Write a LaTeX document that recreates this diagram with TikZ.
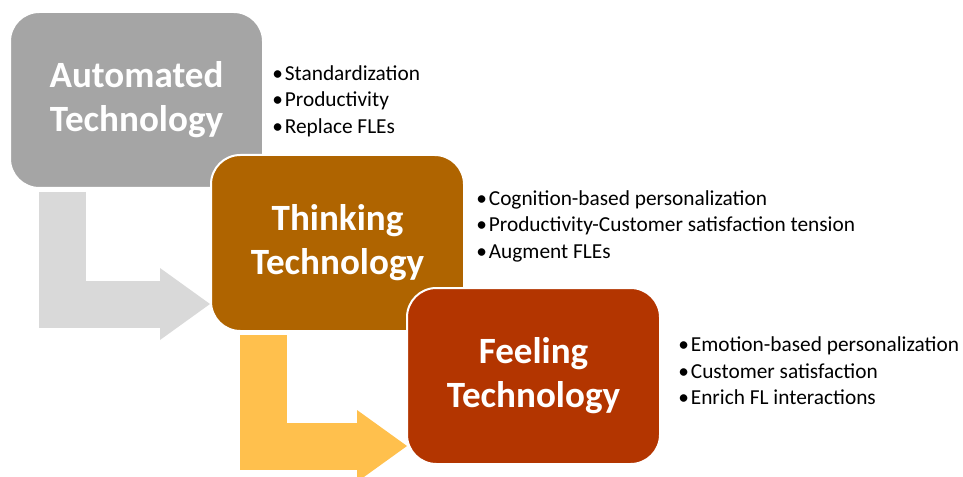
\documentclass[tikz,border=0pt]{standalone}
\usepackage{fontspec}
\setmainfont{Carlito}
\usepackage{xcolor}
\usepackage{tikz}
\usetikzlibrary{arrows.meta,calc,positioning}
\definecolor{autogray}{HTML}{A5A5A5}
\definecolor{thinkbrown}{HTML}{AF6400}
\definecolor{feelred}{HTML}{B33500}
\definecolor{arrowgray}{HTML}{D9D9D9}
\definecolor{arrowyellow}{HTML}{FFC04D}
\tikzstyle{tech} = [rectangle, rounded corners=22pt, minimum width=189.75pt, minimum height=132pt, draw=white, line width=1.5pt, text=white, align=center, font=\fontsize{27.8}{33}\selectfont\bfseries]
\tikzstyle{points} = [anchor=west, inner sep=0pt, align=left, font=\fontsize{16}{19.9}\selectfont]
\tikzstyle{flow} = [line width=35.25pt, -{Triangle[length=37.5pt,width=54pt,line width=0pt]}]
\newcommand{\blt}{\textbullet\hspace{1.5pt}}

\begin{document}
\begin{tikzpicture}[x=0.75pt,y=-0.75pt]
\useasboundingbox (0,0) rectangle (963,477);

\node[tech, fill=autogray] (auto) at (136.5,100) {Automated\\Technology};
\node[tech, fill=thinkbrown] (think) at (337.5,243) {Thinking\\Technology};
\node[tech, fill=feelred] (feel) at (533.5,376) {Feeling\\Technology};

\draw[flow, arrowgray] ($(auto.south west)+(53,3)$) |- ($(think.south west)+(0,-28)$);
\draw[flow, arrowyellow] ($(think.south west)+(53,3)$) |- ($(feel.south west)+(1,-19)$);

\node[points] (autolist) at (272,101) {\blt Standardization\\\blt Productivity\\\blt Replace FLEs};
\node[points] (thinklist) at (476,226) {\blt Cognition-based personalization\\\blt Productivity-Customer satisfaction tension\\\blt Augment FLEs};
\node[points] (feellist) at (678,371) {\blt Emotion-based personalization\\\blt Customer satisfaction\\\blt Enrich FL interactions};
\end{tikzpicture}
\end{document}
